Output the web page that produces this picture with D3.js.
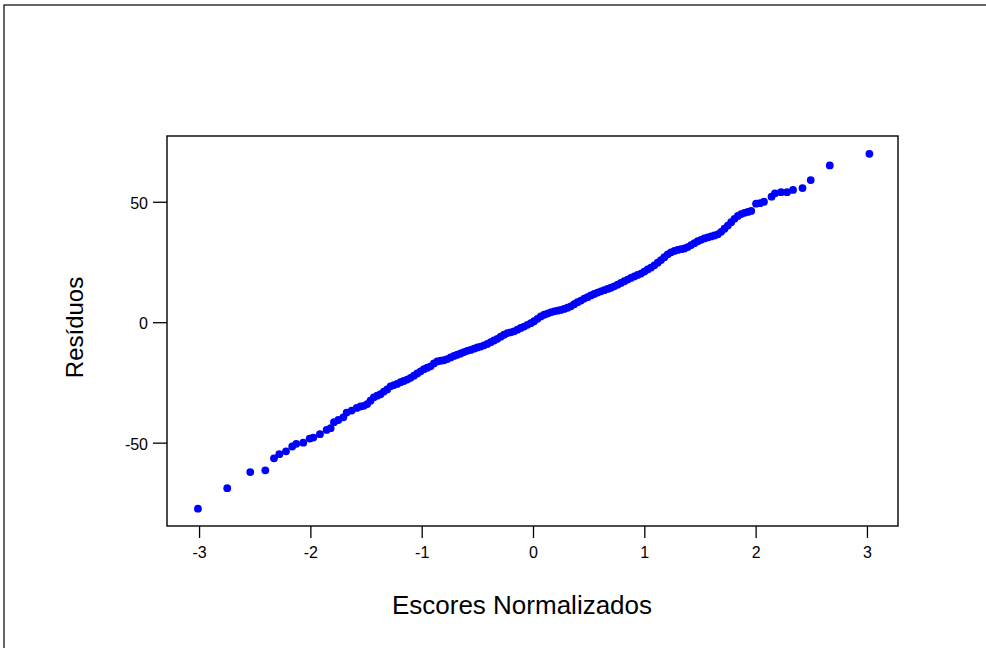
<!DOCTYPE html>
<html>
<head>
<meta charset="utf-8">
<script src="https://cdn.jsdelivr.net/npm/d3@7"></script>
<style>
  html, body { margin: 0; padding: 0; background: #fff; }
  svg { display: block; font-family: Arial, "Liberation Sans", sans-serif; }
</style>
</head>
<body>
<svg id="chart" width="986" height="648"></svg>
<script>
// Normal scores (x) and residuals (y)
const scores = [
  -3.010, -2.747, -2.540, -2.405, -2.327, -2.279, -2.219, -2.163, -2.127, -2.064,
  -2.006, -1.974, -1.914, -1.854, -1.818, -1.788, -1.749, -1.704, -1.674, -1.629,
  -1.584,
  -1.55, -1.52, -1.49, -1.46, -1.43, -1.40, -1.37, -1.34, -1.31, -1.28,
  -1.25, -1.22, -1.19, -1.16, -1.13, -1.10, -1.07, -1.04, -1.01, -0.98,
  -0.95, -0.92, -0.89, -0.86, -0.83, -0.80, -0.77, -0.74, -0.71, -0.68,
  -0.65, -0.62, -0.59, -0.56, -0.53, -0.50, -0.47, -0.44, -0.41, -0.38,
  -0.35, -0.32, -0.29, -0.26, -0.23, -0.20, -0.17, -0.14, -0.11, -0.08,
  -0.05, -0.02, 0.01, 0.04, 0.07, 0.10, 0.13, 0.16, 0.19, 0.22,
  0.25, 0.28, 0.31, 0.34, 0.37, 0.40, 0.43, 0.46, 0.49, 0.52,
  0.55, 0.58, 0.61, 0.64, 0.67, 0.70, 0.73, 0.76, 0.79, 0.82,
  0.85, 0.88, 0.91, 0.94, 0.97, 1.00, 1.03, 1.06, 1.09, 1.12,
  1.15, 1.18, 1.21, 1.24, 1.27, 1.30, 1.33, 1.36, 1.39, 1.42,
  1.45, 1.48, 1.51, 1.54, 1.57, 1.60, 1.63, 1.66, 1.69, 1.72,
  1.75, 1.78, 1.81, 1.84, 1.87, 1.90, 1.93, 1.96,
  2.004, 2.040, 2.075, 2.143, 2.174, 2.228, 2.282, 2.336, 2.421, 2.495,
  2.666, 3.022
];
const residuals = [
  -77.4, -68.9, -62.2, -61.5, -56.5, -54.8, -53.6, -51.6, -50.5, -50.0,
  -48.3, -47.9, -46.5, -44.7, -44.0, -41.5, -40.6, -39.5, -37.5, -36.7,
  -35.6,
  -35.0, -34.7, -34.0, -32.6, -31.2, -30.5, -29.9, -28.8, -27.9, -26.6,
  -26.1, -25.6, -24.9, -24.4, -23.8, -23.1, -22.2, -21.3, -20.4, -19.5,
  -18.9, -18.3, -17.1, -16.3, -16.0, -15.8, -15.3, -14.6, -14.0, -13.5,
  -13.0, -12.4, -11.9, -11.5, -11.0, -10.5, -10.1, -9.6, -9.0, -8.3,
  -7.6, -6.9, -6.0, -5.2, -4.5, -4.2, -3.8, -3.1, -2.4, -1.8,
  -1.1, -0.4, 0.4, 1.4, 2.4, 3.1, 3.6, 4.1, 4.5, 4.8,
  5.1, 5.5, 6.0, 6.6, 7.5, 8.3, 9.0, 9.8, 10.4, 11.1,
  11.7, 12.3, 12.8, 13.3, 13.8, 14.3, 14.9, 15.6, 16.3, 17.0,
  17.7, 18.4, 19.0, 19.6, 20.2, 21.0, 21.9, 22.7, 23.6, 24.7,
  25.8, 27.0, 28.2, 29.0, 29.6, 30.0, 30.3, 30.6, 31.2, 32.0,
  32.8, 33.6, 34.2, 34.8, 35.2, 35.6, 36.0, 36.5, 37.5, 38.8,
  40.1, 41.5, 42.9, 44.1, 44.9, 45.4, 45.8, 46.2,
  49.2, 49.4, 50.0, 52.1, 53.5, 54.0, 54.0, 54.9, 55.7, 59.0,
  65.1, 69.9
];
const xTicks = [-3, -2, -1, 0, 1, 2, 3];
const yTicks = [-50, 0, 50];
const xTitle = "Escores Normalizados";
const yTitle = "Resíduos";

const fmt = d => String(d); // plain hyphen-minus, as in the reference

const svg = d3.select("#chart");

// outer frame (extends beyond the visible canvas on right/bottom)
svg.append("rect")
  .attr("x", 4).attr("y", 5).attr("width", 1200).attr("height", 900)
  .attr("fill", "none").attr("stroke", "#000").attr("stroke-width", 1.2);

const plot = { left: 167, top: 136, right: 898, bottom: 526 };

const x = d3.scaleLinear().domain([-3.288, 3.279]).range([plot.left, plot.right]);
const y = d3.scaleLinear().domain([-84.6, 77.3]).range([plot.bottom, plot.top]);

// x axis
const gx = svg.append("g")
  .attr("transform", `translate(0,${plot.bottom})`)
  .call(d3.axisBottom(x).tickValues(xTicks).tickSize(12).tickPadding(9).tickFormat(fmt));
gx.select(".domain").remove();
gx.selectAll("line").attr("stroke", "#000").attr("stroke-width", 1.3);
gx.selectAll("text").attr("fill", "#000").attr("font-size", "16px")
  .attr("font-family", "Arial, 'Liberation Sans', sans-serif");

// y axis
const gy = svg.append("g")
  .attr("transform", `translate(${plot.left},0)`)
  .call(d3.axisLeft(y).tickValues(yTicks).tickSize(14).tickPadding(5).tickFormat(fmt));
gy.select(".domain").remove();
gy.selectAll("line").attr("stroke", "#000").attr("stroke-width", 1.3);
gy.selectAll("text").attr("fill", "#000").attr("font-size", "16px").attr("dy", "0.42em")
  .attr("font-family", "Arial, 'Liberation Sans', sans-serif");

// plot box
svg.append("rect")
  .attr("x", plot.left).attr("y", plot.top)
  .attr("width", plot.right - plot.left).attr("height", plot.bottom - plot.top)
  .attr("fill", "none").attr("stroke", "#000").attr("stroke-width", 1.4);

// points
svg.append("g")
  .selectAll("circle")
  .data(scores.map((s, i) => [s, residuals[i]]))
  .join("circle")
  .attr("cx", d => x(d[0]))
  .attr("cy", d => y(d[1]))
  .attr("r", 3.9)
  .attr("fill", "#0000ff");

// titles
svg.append("text")
  .attr("x", 522).attr("y", 614)
  .attr("text-anchor", "middle")
  .attr("font-size", "26px")
  .attr("fill", "#000")
  .text(xTitle);

svg.append("text")
  .attr("transform", "translate(83,327.5) rotate(-90)")
  .attr("text-anchor", "middle")
  .attr("font-size", "24px")
  .attr("fill", "#000")
  .text(yTitle);
</script>
</body>
</html>
